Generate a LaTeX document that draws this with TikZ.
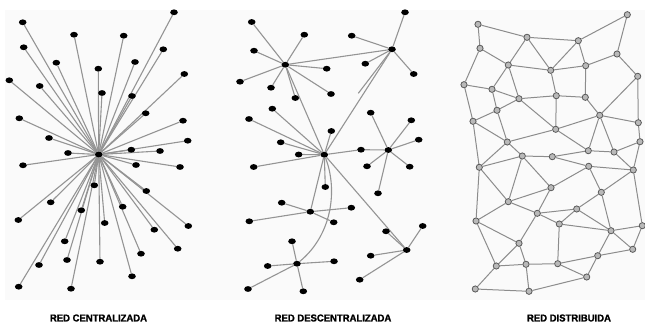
\documentclass[tikz,border=0pt]{standalone}
\usepackage{fontspec}
\setmainfont{Liberation Sans}
\newfontfamily\heavyfont[BoldFont={Liberation Sans Bold},BoldFeatures={FakeBold=1.3,FakeStretch=0.95}]{Liberation Sans}
\usetikzlibrary{shapes.geometric,backgrounds}
\tikzset{
  bnode/.style={ellipse,fill=black,inner sep=0pt,minimum width=7.6pt,minimum height=5.8pt},
  gnode/.style={circle,fill=gray!55,draw=gray!70!black,line width=0.8pt,inner sep=0pt,minimum size=6.2pt},
  edge/.style={draw=black!42,line width=1.1pt},
  gedge/.style={draw=black!45,line width=1pt},
  lbl/.style={font=\heavyfont\bfseries\fontsize{10}{12}\selectfont,inner sep=0pt}
}
\begin{document}
\begin{tikzpicture}[x=1pt,y=-1pt]
\useasboundingbox (0,0) rectangle (645,324);
% ---------- centralized ----------
\node[bnode] (cc) at (98.7,154.5) {};
\foreach \p [count=\i] in {(22.7,22.3),(174,12.3),(74,34.7),(123.7,35.7),(23.7,47.3),(163.3,49.3),(56.3,62.7),(135,62),(98.3,68.7),(9.3,80.3),(39.7,86),(184.3,74),(102,93),(132,96),(19.3,118.3),(145.7,113.3),(183,120.7),(49,138),(187.7,140.7),(68,153),(131.3,149.7),(160,151),(23,165.3),(136,165),(180,167),(94.3,185.3),(146.3,191),(50.7,202.3),(81.3,210.3),(122.7,206.7),(18.3,220),(104.7,223),(154.3,229.7),(188.3,226),(64.7,241.3),(177.7,248.7),(141,253.7),(67,260),(100,261.7),(39,265),(132,276.3),(18.7,286.7),(71,288.7)}
  {\node[bnode] (c\i) at \p {};}
% ---------- decentralized ----------
\node[bnode] (hA) at (285.3,64.7) {};
\node[bnode] (hB) at (392,49.3) {};
\node[bnode] (hC) at (324.3,154.7) {};
\node[bnode] (hD) at (388.3,150) {};
\node[bnode] (hE) at (310.3,211.7) {};
\node[bnode] (hF) at (297,263.7) {};
\node[bnode] (hG) at (406.7,250) {};
\node[bnode] (cd) at (361,149.7) {};
\coordinate (bx) at (358.3,93.3);
\foreach \p [count=\i] in {(251.7,22),(304.3,34.7),(254,50.7),(240,81.7),(271,87.7),(295.3,98),(326.7,68.7),(331,94)}
  {\node[bnode] (a\i) at \p {};}
\foreach \p [count=\i] in {(405,12.3),(351.7,35.7),(365.3,63.7),(413.7,74)}
  {\node[bnode] (b\i) at \p {};}
\foreach \p [count=\i] in {(272.3,108.7),(249,119),(280.7,142.3),(298.7,154.5),(331.3,131),(253.7,167),(325.3,187)}
  {\node[bnode] (k\i) at \p {};}
\foreach \p [count=\i] in {(370.7,112.7),(411.3,120.3),(418.7,139.7),(367,166.3),(409.7,166.7),(378,193.3)}
  {\node[bnode] (d\i) at \p {};}
\foreach \p [count=\i] in {(281.7,202.7),(249.3,221.3),(351.3,207.7),(333.7,222.3)}
  {\node[bnode] (e\i) at \p {};}
\foreach \p [count=\i] in {(292,241.3),(334,261.3),(267.7,266),(248,289),(303.3,291.3)}
  {\node[bnode] (f\i) at \p {};}
\foreach \p [count=\i] in {(422.7,226),(386,231.3),(370.7,255.7),(359.7,279.7)}
  {\node[bnode] (g\i) at \p {};}
% ---------- distributed ----------
\foreach \p [count=\i] in {(478,24.3),(627.3,14.7),(527,37.3),(578.3,40.7),(480,48.3),(617,54),(508.3,65),(550.7,70.3),(585.7,65.7),(637.7,76.3),(464,84.7),(492,89.3),(519,98.7),(556.3,95.7),(585.3,97.3),(497,110.3),(599.7,115.3),(473,121.3),(638.3,122.7),(555.7,129.3),(507.3,142),(640,141.7),(588.3,150.7),(614,152),(522.3,156),(552.3,156.7),(479.3,167.3),(588.7,166.3),(633.3,170),(551,187.7),(601.3,192.3),(508.3,201.7),(537.3,213.3),(576.7,209),(476,221),(559.3,224),(611,230.7),(642.3,225.7),(519,243.3),(632.7,249.3),(597.7,255.7),(496.3,266),(526,264.3),(557.7,263.7),(586.7,277),(475.3,289),(529,291.3)}
  {\node[gnode] (n\i) at \p {};}
% ---------- labels ----------
\node[lbl] (l1) at (98.5,318) {RED CENTRALIZADA};
\node[lbl] (l2) at (333,318) {RED DESCENTRALIZADA};
\node[lbl] (l3) at (569,318) {RED DISTRIBUIDA};
\begin{pgfonlayer}{background}
\fill[gray!4] (5,10) rectangle (645,300);
\foreach \i in {1,...,43} {\draw[edge] (cc) -- (c\i);}
\foreach \i in {1,...,8} {\draw[edge] (hA) -- (a\i);}
\foreach \i in {1,...,4} {\draw[edge] (hB) -- (b\i);}
\foreach \i in {1,...,7} {\draw[edge] (hC) -- (k\i);}
\foreach \i in {1,...,6} {\draw[edge] (hD) -- (d\i);}
\foreach \i in {1,...,4} {\draw[edge] (hE) -- (e\i);}
\foreach \i in {1,...,5} {\draw[edge] (hF) -- (f\i);}
\foreach \i in {1,...,4} {\draw[edge] (hG) -- (g\i);}
\draw[edge] (hA) -- (hB);
\draw[edge] (hA) -- (hC);
\draw[edge] (hB) -- (hC);
\draw[edge] (hB) -- (bx);
\draw[edge] (hC) -- (cd);
\draw[edge] (cd) -- (hD);
\draw[edge] (hC) -- (hE);
\draw[edge] (hC) -- (hG);
\draw[edge] (hC) .. controls (338,190) and (332,235) .. (hF);
\foreach \a/\b in {1/3,3/4,4/2,2/6,1/5,5/7,5/11,3/7,3/8,4/8,4/9,7/8,8/9,9/6,6/10,7/12,7/13,11/12,11/18,12/13,12/16,13/16,13/14,13/20,16/18,8/14,14/15,14/20,9/15,10/17,15/17,10/19,17/19,17/20,17/23,17/24,19/22,16/21,18/21,18/27,20/21,20/23,21/25,21/27,25/27,25/26,25/30,25/32,26/23,23/24,22/24,22/29,24/29,26/28,28/29,28/30,28/31,29/31,27/32,27/35,30/32,30/33,32/33,32/35,31/34,31/37,29/38,33/34,33/36,34/36,34/37,36/37,37/38,37/40,38/40,37/41,40/41,41/45,41/44,44/45,45/47,43/44,36/44,33/39,35/39,35/42,39/42,39/43,42/43,42/46,46/47,43/47}
  {\draw[gedge] (n\a) -- (n\b);}
\end{pgfonlayer}
\end{tikzpicture}
\end{document}
